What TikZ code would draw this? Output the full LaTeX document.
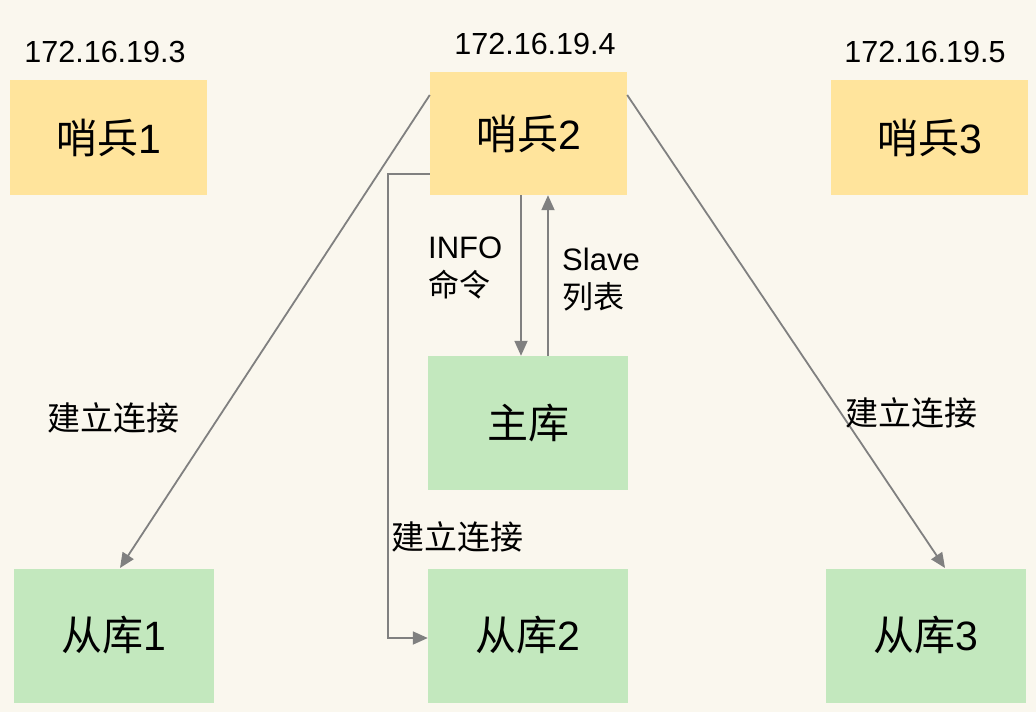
\documentclass[tikz,border=0pt]{standalone}
\usepackage{fontspec}
\setmainfont{Liberation Sans}
\newfontfamily\cjk{Noto Sans CJK SC}
\usetikzlibrary{arrows.meta}
\definecolor{bgcol}{HTML}{FAF7EE}
\definecolor{sentfill}{HTML}{FFE49C}
\definecolor{dbfill}{HTML}{C3E8BE}
\definecolor{linkcol}{HTML}{808080}
\begin{document}
\begin{tikzpicture}[x=1pt,y=-1pt,
  sentinel/.style={fill=sentfill, draw=none, minimum width=197pt, minimum height=115pt, inner sep=0pt, font=\fontsize{41}{44}\selectfont},
  dbbox/.style={fill=dbfill, draw=none, minimum width=200pt, minimum height=134pt, inner sep=0pt, font=\fontsize{41}{44}\selectfont},
  ip/.style={font=\fontsize{30.5}{32}\selectfont, inner sep=0pt},
  lbl/.style={font=\fontsize{31}{38}\selectfont, inner sep=0pt, align=left},
  conn/.style={font=\fontsize{33}{36}\selectfont, inner sep=0pt},
  link/.style={draw=linkcol, line width=1.8pt, -{Triangle[length=15pt,width=13pt]}}]
\fill[bgcol] (0,0) rectangle (1036,712);
\useasboundingbox (0,0) rectangle (1036,712);

% sentinels
\node[sentinel] (s1) at (108.5,137.5) {{\cjk 哨兵}1};
\node[sentinel, minimum height=123pt] (s2) at (528.5,133.5) {{\cjk 哨兵}2};
\node[sentinel] (s3) at (929.5,137.5) {{\cjk 哨兵}3};
\node[ip] (ip1) at (105,52) {172.16.19.3};
\node[ip] (ip2) at (535,44) {172.16.19.4};
\node[ip] (ip3) at (925,52) {172.16.19.5};

% master and replicas
\node[dbbox] (m) at (528,423) {{\cjk 主库}};
\node[dbbox] (r1) at (114,635.5) {{\cjk 从库}1};
\node[dbbox] (r2) at (528,635.5) {{\cjk 从库}2};
\node[dbbox] (r3) at (926,635.5) {{\cjk 从库}3};

% connections from sentinel 2
\draw[link] (s2.north west |- 0,95) coordinate (a1) -- (120,568) coordinate (a1e);
\draw[link] (s2.north east |- 0,95) coordinate (a3) -- (945,568) coordinate (a3e);
\draw[link] (s2.west |- 0,174) -- (388,174) -- (388,638) -- (r2.west |- 0,638);
\draw[link] (s2.south -| 521,0) -- (m.north -| 521,0);
\draw[link] (m.north -| 548,0) -- (s2.south -| 548,0);

% labels
\node[lbl, anchor=west] (t1) at (428,268) {INFO\\{\cjk 命令}};
\node[lbl, anchor=west] (t2) at (562,280) {Slave\\{\cjk 列表}};
\node[conn] (c1) at (113,418) {\cjk 建立连接};
\node[conn] (c3) at (911,413) {\cjk 建立连接};
\node[conn] (c2) at (457,537) {\cjk 建立连接};
\end{tikzpicture}
\end{document}
